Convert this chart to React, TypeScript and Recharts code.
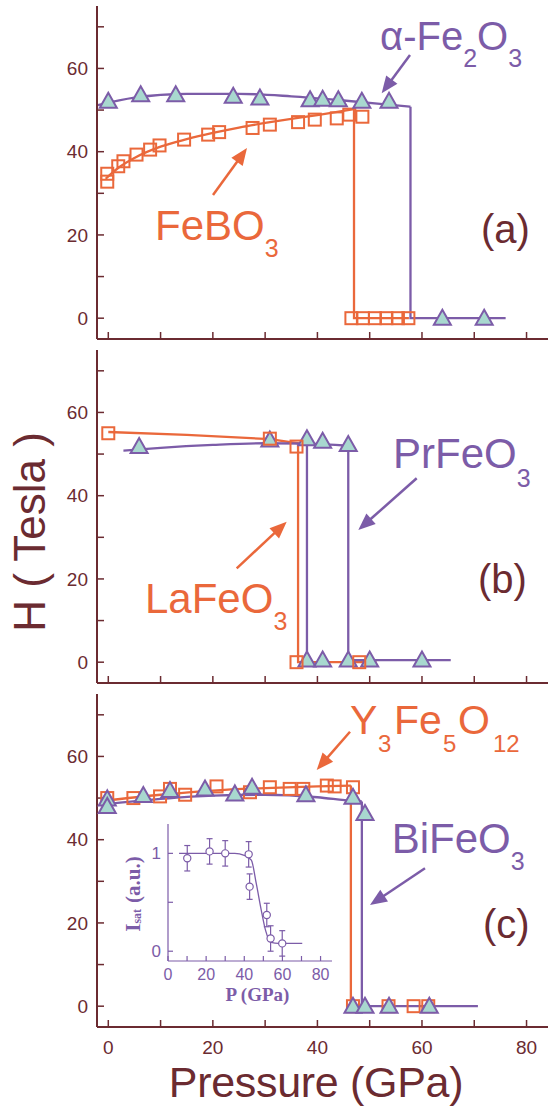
import React from "react";
import { ComposedChart, Line, Scatter, XAxis, YAxis, ErrorBar } from "recharts";

const MAROON = "#6b2b31";
const ORANGE = "#ea683b";
const PURPLE = "#7c5ca8";
const TEAL = "#a8d8cf";
const FONT = "'Liberation Sans', Arial, Helvetica, sans-serif";
const SERIF = "'Liberation Serif', 'Times New Roman', serif";

// ---- panel (a) ----
const feboP = [-0.2, -0.2, 1.9, 2.9, 5.4, 8, 9.8, 14.5, 19.1, 21.2, 27.6, 30.9, 36.3, 39.5, 43.7, 46.1, 48.6, 46.5, 48.7, 51, 53.2, 55.4, 57.4];
const feboH = [32.8, 34.7, 36.5, 37.7, 39.3, 40.5, 41.5, 42.9, 44.1, 44.7, 45.7, 46.5, 47.1, 47.7, 48, 48.9, 48.4, 0, 0, 0, 0, 0, 0];
const feboFitP = [-0.5, 2, 5, 10, 15, 20, 25, 30, 35, 40, 47];
const feboFitH = [33.5, 36.2, 38.5, 41.2, 43.0, 44.5, 45.8, 46.9, 47.9, 48.8, 50.2];
const feboDropP = [47, 47, 57.5];
const feboDropH = [50.2, 0, 0];

const hemP = [0, 6.2, 12.9, 23.9, 29, 38.6, 41, 44, 48.5, 53.7, 63.9, 71.9];
const hemH = [52.1, 53.7, 53.7, 53.3, 52.9, 52.5, 52.6, 52.5, 52.1, 52.1, 0, 0];
const hemFitP = [-2, 5, 15, 25, 35, 45, 52, 57.8];
const hemFitH = [51.2, 53.0, 53.9, 53.9, 53.3, 52.3, 51.5, 50.8];
const hemDropP = [57.8, 57.8, 76];
const hemDropH = [50.8, 0, 0];

// ---- panel (b) ----
const laP = [0, 30.9, 36, 36, 48];
const laH = [55, 53.7, 51.8, 0, 0];
const laFitP = [0, 15, 30.9, 36.3, 36.3, 51.3];
const laFitH = [55.3, 54.6, 53.6, 52.6, 0, 0];

const prP = [5.9, 30.9, 38, 41, 45.9, 38, 41, 45.9, 50, 60];
const prH = [51.8, 53.4, 53.7, 53.1, 52.3, 0.5, 0.5, 0.5, 0.5, 0.5];
const prFitP = [2.9, 10, 20, 30, 38, 45.9];
const prFitH = [50.8, 51.5, 52.2, 52.6, 52.5, 52.0];
const prDropP = [45.9, 45.9, 65.5];
const prDropH = [52.0, 0.5, 0.5];
const prDrop2P = [38, 38];
const prDrop2H = [52.5, 0.5];

// ---- panel (c) ----
const yigP = [-0.2, 4.8, 9.9, 11.8, 14.7, 20.7, 27.1, 30.9, 34.7, 37.3, 41.8, 43.3, 46.8, 46.8, 53.6, 58.4, 61.2];
const yigH = [50, 50, 50.4, 52.2, 50.8, 52.8, 51.4, 52.6, 52.2, 52.2, 53, 52.8, 52.6, 0, 0, 0, 0];
const yigFitP = [-1.3, 10, 20, 30, 40, 46.4];
const yigFitH = [49.3, 50.8, 51.8, 52.4, 52.8, 53];
const yigDropP = [46.4, 46.4, 48];
const yigDropH = [53, 0, 0];

const bfoP = [-0.2, -0.2, 6.7, 11.8, 18.5, 24.2, 27.5, 37.8, 46.8, 49.1, 46.8, 49.1, 53.7, 61.4];
const bfoH = [49.8, 48, 50.6, 51.8, 52.2, 51, 52.6, 50.8, 50.2, 46.3, 0, 0, 0, 0];
const bfoFitP = [-1.3, 10, 20, 30, 40, 46.8, 48.5];
const bfoFitH = [48.4, 49.8, 50.6, 50.8, 50.2, 49.3, 49.2];
const bfoDropP = [48.5, 48.5, 70.7];
const bfoDropH = [49.2, 0, 0];

// ---- inset ----
const isatP = [10.1, 21.8, 30, 42.3, 42.8, 51.8, 53.8, 59.9];
const isatI = [0.95, 1.02, 1.0, 0.99, 0.66, 0.37, 0.13, 0.08];
const isatErr = [0.13, 0.13, 0.13, 0.13, 0.13, 0.12, 0.13, 0.13];
const isatFitP = [5.8, 35, 40, 43.7, 46.3, 48.9, 51.2, 54.1, 58, 70.4];
const isatFitI = [1, 1, 0.98, 0.93, 0.69, 0.42, 0.21, 0.09, 0.08, 0.08];

const X_TICKS = [0, 10, 20, 30, 40, 50, 60, 70, 80];
const Y_TICKS = [0, 10, 20, 30, 40, 50, 60, 70];
const X_DOMAIN: [number, number] = [-2.16, 86.4];
const Y_DOMAIN: [number, number] = [-5, 75];
const PLOT_H = 333;

const rows = (p: number[], h: number[]) => p.map((x, i) => ({ p: x, h: h[i] }));

const Tri = (props: any) => {
  const { cx, cy } = props;
  return (
    <polygon
      points={`${cx},${cy - 8.5} ${cx - 8.5},${cy + 6.5} ${cx + 8.5},${cy + 6.5}`}
      fill={TEAL}
      stroke={PURPLE}
      strokeWidth={2}
      strokeLinejoin="miter"
    />
  );
};

const Sq = (props: any) => {
  const { cx, cy } = props;
  return <rect x={cx - 6} y={cy - 6} width={12} height={12} fill="none" stroke={ORANGE} strokeWidth={2} />;
};

const Circ = (props: any) => {
  const { cx, cy } = props;
  return <circle cx={cx} cy={cy} r={3.6} fill="#fff" stroke={PURPLE} strokeWidth={1.2} />;
};

function curve(p: number[], h: number[], color: string, type: "monotone" | "linear" = "monotone") {
  return (
    <Line
      data={rows(p, h)}
      dataKey="h"
      type={type}
      stroke={color}
      strokeWidth={2.3}
      dot={false}
      activeDot={false}
      isAnimationActive={false}
    />
  );
}

function marks(p: number[], h: number[], shape: any) {
  return <Scatter data={rows(p, h)} dataKey="h" shape={shape} isAnimationActive={false} />;
}

function Panel({ top, last, children }: { top: number; last?: boolean; children: React.ReactNode }) {
  const axisH = last ? 40 : 1;
  return (
    <div style={{ position: "absolute", left: 0, top: top - 2 }}>
      <ComposedChart width={560} height={PLOT_H + 2 + axisH} margin={{ top: 2, right: 0, bottom: 0, left: 0 }}>
        <XAxis
          dataKey="p"
          type="number"
          domain={X_DOMAIN}
          allowDataOverflow
          ticks={X_TICKS}
          interval={0}
          height={axisH}
          tickSize={-7}
          tickMargin={21}
          tickFormatter={(v: number) => (last && v % 20 === 0 ? String(v) : "")}
          tick={{ fill: MAROON, fontSize: 19, fontFamily: FONT }}
          axisLine={{ stroke: MAROON, strokeWidth: 2 }}
          tickLine={{ stroke: MAROON, strokeWidth: 1.5 }}
        />
        <XAxis
          xAxisId="top"
          orientation="top"
          dataKey="p"
          type="number"
          domain={X_DOMAIN}
          allowDataOverflow
          height={0}
          tick={false}
          tickLine={false}
          axisLine={{ stroke: MAROON, strokeWidth: 2 }}
        />
        <YAxis
          type="number"
          domain={Y_DOMAIN}
          allowDataOverflow
          ticks={Y_TICKS}
          interval={0}
          width={97}
          tickSize={-7}
          tickMargin={16}
          tickFormatter={(v: number) => (v % 20 === 0 ? String(v) : "")}
          tick={{ fill: MAROON, fontSize: 19, fontFamily: FONT }}
          axisLine={{ stroke: MAROON, strokeWidth: 2 }}
          tickLine={{ stroke: MAROON, strokeWidth: 1.5 }}
        />
        {children}
      </ComposedChart>
    </div>
  );
}

function Inset() {
  const data = isatP.map((p, i) => ({ p, i: isatI[i], e: isatErr[i] }));
  const fit = isatFitP.map((p, i) => ({ p, i: isatFitI[i] }));
  const axis = { stroke: PURPLE, strokeWidth: 1.2 };
  return (
    <div style={{ position: "absolute", left: 138, top: 823 }}>
      <ComposedChart width={196} height={168} margin={{ top: 1, right: 2, bottom: 0, left: 0 }}>
        <XAxis
          dataKey="p"
          type="number"
          domain={[0, 86]}
          allowDataOverflow
          ticks={X_TICKS}
          interval={0}
          height={30}
          tickSize={-5}
          tickMargin={13}
          tickFormatter={(v: number) => (v % 20 === 0 ? String(v) : "")}
          tick={{ fill: PURPLE, fontSize: 16, fontFamily: FONT }}
          axisLine={axis}
          tickLine={axis}
        />
        <XAxis xAxisId="t" orientation="top" dataKey="p" type="number" domain={[0, 86]} allowDataOverflow height={0} tick={false} tickLine={false} axisLine={axis} />
        <YAxis
          type="number"
          domain={[-0.1, 1.3]}
          allowDataOverflow
          ticks={[0, 0.5, 1]}
          interval={0}
          width={30}
          tickSize={-5}
          tickMargin={12}
          tickFormatter={(v: number) => (v === 0 || v === 1 ? String(v) : "")}
          tick={{ fill: PURPLE, fontSize: 17, fontFamily: FONT }}
          axisLine={axis}
          tickLine={axis}
        />
        <YAxis yAxisId="r" orientation="right" type="number" domain={[-0.1, 1.3]} width={0} tick={false} tickLine={false} axisLine={axis} />
        <Line data={fit} dataKey="i" type="monotone" stroke={PURPLE} strokeWidth={1.3} dot={false} activeDot={false} isAnimationActive={false} />
        <Scatter data={data} dataKey="i" shape={Circ} isAnimationActive={false}>
          <ErrorBar dataKey="e" direction="y" width={3} stroke={PURPLE} strokeWidth={1.2} />
        </Scatter>
      </ComposedChart>
    </div>
  );
}

function Arrow({ x1, y1, x2, y2, color }: { x1: number; y1: number; x2: number; y2: number; color: string }) {
  const dx = x2 - x1;
  const dy = y2 - y1;
  const len = Math.hypot(dx, dy);
  const ux = dx / len;
  const uy = dy / len;
  const head = 17;
  const half = 7;
  const bx = x2 - ux * head;
  const by = y2 - uy * head;
  return (
    <g>
      <line x1={x1} y1={y1} x2={bx + ux * 2} y2={by + uy * 2} stroke={color} strokeWidth={2.5} />
      <polygon points={`${x2},${y2} ${bx - uy * half},${by + ux * half} ${bx + uy * half},${by - ux * half}`} fill={color} />
    </g>
  );
}

function Overlay() {
  const big = { fontFamily: FONT, fontSize: 42 };
  return (
    <svg width={548} height={1107} style={{ position: "absolute", left: 0, top: 0, pointerEvents: "none" }}>
      {/* panel (a) */}
      <text x={380} y={50} fill={PURPLE} fontFamily={FONT} fontSize={40}>
        α-Fe<tspan fontSize={25} dy={17}>2</tspan>
        <tspan dy={-17}>O</tspan>
        <tspan fontSize={25} dy={17}>3</tspan>
      </text>
      <Arrow x1={410} y1={55} x2={381.7} y2={93.3} color={PURPLE} />
      <text x={155} y={240} fill={ORANGE} {...big}>
        FeBO<tspan fontSize={25} dy={17}>3</tspan>
      </text>
      <Arrow x1={213} y1={195} x2={247} y2={148} color={ORANGE} />
      <text x={481} y={243} fill={MAROON} fontFamily={FONT} fontSize={40}>(a)</text>

      {/* panel (b) */}
      <text x={393} y={468} fill={PURPLE} {...big}>
        PrFeO<tspan fontSize={25} dy={19}>3</tspan>
      </text>
      <Arrow x1={416.7} y1={478.3} x2={358.3} y2={530} color={PURPLE} />
      <text x={145} y={613} fill={ORANGE} {...big}>
        LaFeO<tspan fontSize={25} dy={17}>3</tspan>
      </text>
      <Arrow x1={236.7} y1={568.3} x2={286.7} y2={521.7} color={ORANGE} />
      <text x={478} y={593} fill={MAROON} fontFamily={FONT} fontSize={40}>(b)</text>

      {/* panel (c) */}
      <text fill={ORANGE} fontFamily={FONT} fontSize={41}>
        <tspan x={350} y={734}>Y</tspan>
        <tspan x={378} y={752} fontSize={24}>3</tspan>
        <tspan x={394} y={734}>Fe</tspan>
        <tspan x={443} y={752} fontSize={24}>5</tspan>
        <tspan x={458} y={734}>O</tspan>
        <tspan x={493} y={752} fontSize={24}>12</tspan>
      </text>
      <Arrow x1={350} y1={731.7} x2={316.7} y2={770} color={ORANGE} />
      <text x={391.7} y={853} fill={PURPLE} {...big}>
        BiFeO<tspan fontSize={25} dy={17}>3</tspan>
      </text>
      <Arrow x1={425} y1={868.3} x2={370} y2={905} color={PURPLE} />
      <text x={483} y={938} fill={MAROON} fontFamily={FONT} fontSize={40}>(c)</text>

      {/* inset labels */}
      <text x={257.5} y={1001} textAnchor="middle" fill={PURPLE} fontFamily={SERIF} fontWeight="bold" fontSize={19}>
        P (GPa)
      </text>
      <text transform="translate(140,894) rotate(-90)" textAnchor="middle" fill={PURPLE} fontFamily={SERIF} fontWeight="bold" fontSize={21}>
        I<tspan fontSize={12} dy={1}>sat</tspan>
        <tspan dy={-1} dx={6}>(a.u.)</tspan>
      </text>

      {/* axis titles */}
      <text transform="translate(45,532) rotate(-90)" textAnchor="middle" fill={MAROON} fontFamily={FONT} fontSize={44}>
        H ( Tesla )
      </text>
      <text x={316} y={1097} textAnchor="middle" fill={MAROON} fontFamily={FONT} fontSize={43} letterSpacing={-0.3}>
        Pressure (GPa)
      </text>
    </svg>
  );
}

export default function App() {
  return (
    <div style={{ position: "absolute", left: 0, top: 0, width: 548, height: 1107, overflow: "hidden", background: "#fff" }}>
      <Panel top={6}>
        {curve(feboFitP, feboFitH, ORANGE)}
        {curve(feboDropP, feboDropH, ORANGE, "linear")}
        {curve(hemFitP, hemFitH, PURPLE)}
        {curve(hemDropP, hemDropH, PURPLE, "linear")}
        {marks(feboP, feboH, Sq)}
        {marks(hemP, hemH, Tri)}
      </Panel>
      <Panel top={350}>
        {curve(laFitP, laFitH, ORANGE, "linear")}
        {curve(prFitP, prFitH, PURPLE)}
        {curve(prDropP, prDropH, PURPLE, "linear")}
        {curve(prDrop2P, prDrop2H, PURPLE, "linear")}
        {marks(prP, prH, Tri)}
        {marks(laP, laH, Sq)}
      </Panel>
      <Panel top={694} last>
        {curve(yigFitP, yigFitH, ORANGE)}
        {curve(yigDropP, yigDropH, ORANGE, "linear")}
        {curve(bfoFitP, bfoFitH, PURPLE)}
        {curve(bfoDropP, bfoDropH, PURPLE, "linear")}
        {marks(yigP, yigH, Sq)}
        {marks(bfoP, bfoH, Tri)}
      </Panel>
      <Inset />
      <Overlay />
    </div>
  );
}
